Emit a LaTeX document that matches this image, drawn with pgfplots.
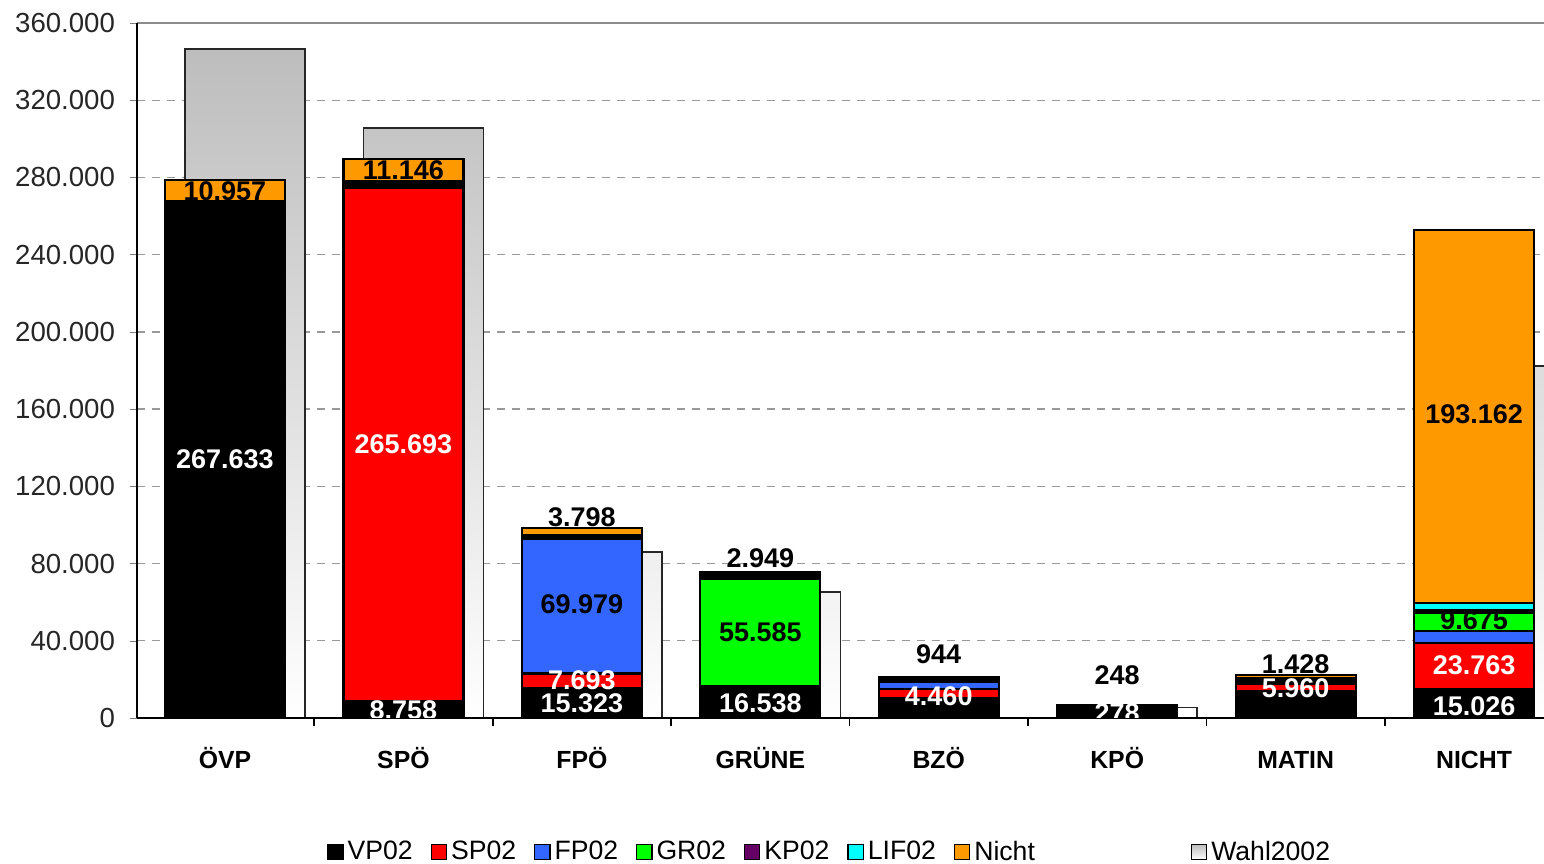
\documentclass[border=0pt]{standalone}
\usepackage{fontspec}
\setmainfont{Liberation Sans}
\usepackage{pgfplots}
\usepackage{pgfplotstable}
\pgfplotsset{compat=1.18}
\definecolor{cVP}{HTML}{000000}
\definecolor{cSP}{HTML}{FF0000}
\definecolor{cFP}{HTML}{3366FF}
\definecolor{cGR}{HTML}{00FF00}
\definecolor{cKP}{HTML}{660066}
\definecolor{cLIF}{HTML}{00FFFF}
\definecolor{cNI}{HTML}{FF9900}
\definecolor{cWA}{HTML}{BDBDBD}

\pgfplotstableread{
x VP SP FP GR KP LIF OT NI
0 267633 0 0 0 0 0 0 10957
1 8758 265693 0 0 0 0 3800 11146
2 15323 7693 69979 0 0 0 1500 3798
3 16538 0 0 55585 0 0 3500 0
4 10400 4460 3800 0 0 0 1450 944
5 6400 0 0 0 0 0 0 248
6 13900 4000 0 0 0 0 3000 1428
7 15026 23763 6200 9675 1240 3600 0 193162
}\stacktab

\pgfplotstableread{
x W
0 346500
1 305600
2 86100
3 65400
5 5500
7 182300
}\wahltab

\pgfplotsset{
  base/.style={
    scale only axis, width=703.5pt, height=347.5pt,
    at={(0,0)}, anchor=south west,
    xmin=-0.493, xmax=7.392, ymin=0, ymax=360000,
    scaled x ticks=false, scaled y ticks=false,
  },
  seg/.style={draw=black, line width=1.1pt, fill=#1},
}
\tikzset{lbl/.style={font=\bfseries\fontsize{13.5}{15}\selectfont, text=#1, inner sep=0pt}}

\begin{document}
\begin{tikzpicture}
% background: grid + Wahl2002
\begin{axis}[base, name=bg,
  axis line style={draw=none}, tick style={draw=none},
  xtick=\empty, ytick={40000,80000,...,320000}, yticklabels={},
  ymajorgrids, grid style={dash pattern=on 4pt off 3.5pt, color=black!40, line width=0.7pt},
  extra y ticks={360000}, extra y tick labels={},
  extra y tick style={grid style={solid, color=black!45, line width=0.8pt}},
]
\addplot[ybar, bar width=60pt, bar shift=10pt, draw=black!85, line width=0.8pt,
  top color=cWA, bottom color=white] table[x=x, y=W] {\wahltab};
\end{axis}
% foreground: stacked bars
\begin{axis}[base, name=ax, ybar stacked, bar width=60pt,
  axis x line*=bottom, axis y line*=left,
  axis line style={black, line width=0.9pt},
  tick align=outside,
  ytick={0,40000,...,360000},
  yticklabels={0,40.000,80.000,120.000,160.000,200.000,240.000,280.000,320.000,360.000},
  major tick length=3.5pt,
  yticklabel style={font=\fontsize{13.8}{16}\selectfont, xshift=-4pt, text=black!85},
  xtick={0,...,7},
  xticklabels={ÖVP,SPÖ,FPÖ,GRÜNE,BZÖ,KPÖ,MATIN,NICHT},
  x tick style={draw=none},
  minor xtick={0.5,1.5,...,6.5},
  minor x tick style={draw=black, line width=0.9pt},
  minor tick length=4pt,
  xticklabel style={font=\bfseries\fontsize{12.4}{14}\selectfont, text height=9pt, text depth=0pt, yshift=-9pt},
  legend style={at={(0.493,-0.193)}, anchor=center, draw=none, fill=none,
    legend columns=-1, font=\fontsize{13.3}{15}\selectfont,
    /tikz/every even column/.append style={column sep=7pt},
    inner sep=0pt},
  legend image code/.code={\draw[#1, line width=0.6pt, draw=black] (0pt,-3.8pt) rectangle (7.6pt,3.8pt);},
]
\addplot[seg=cVP] table[x=x, y=VP] {\stacktab};
\addlegendentry{VP02}
\addplot[seg=cSP] table[x=x, y=SP] {\stacktab};
\addlegendentry{SP02}
\addplot[seg=cFP] table[x=x, y=FP] {\stacktab};
\addlegendentry{FP02}
\addplot[seg=cGR] table[x=x, y=GR] {\stacktab};
\addlegendentry{GR02}
\addplot[seg=cKP] table[x=x, y=KP] {\stacktab};
\addlegendentry{KP02}
\addplot[seg=cLIF] table[x=x, y=LIF] {\stacktab};
\addlegendentry{LIF02}
\addplot[seg=black, forget plot] table[x=x, y=OT] {\stacktab};
\addplot[seg=cNI] table[x=x, y=NI] {\stacktab};
\addlegendentry{Nicht}
\addlegendimage{empty legend}
\addlegendentry{\rule{58pt}{0pt}}
\addlegendimage{draw=black, top color=cWA, bottom color=white}
\addlegendentry{Wahl2002}
\end{axis}
% overlay: value labels
\begin{axis}[base, hide axis]
\node[lbl=white] at (axis cs:0,134200) {267.633};
\node[lbl=black] at (axis cs:0,273100) {10.957};
\node[lbl=white] at (axis cs:1,142000) {265.693};
\node[lbl=white] at (axis cs:1,4100) {8.758};
\node[lbl=black] at (axis cs:1,283800) {11.146};
\node[lbl=black] at (axis cs:2,104100) {3.798};
\node[lbl=black] at (axis cs:2,59000) {69.979};
\node[lbl=white] at (axis cs:2,19700) {7.693};
\node[lbl=white] at (axis cs:2,7800) {15.323};
\node[lbl=black] at (axis cs:3,82900) {2.949};
\node[lbl=black] at (axis cs:3,44500) {55.585};
\node[lbl=white] at (axis cs:3,7800) {16.538};
\node[lbl=black] at (axis cs:4,33200) {944};
\node[lbl=white] at (axis cs:4,11400) {4.460};
\node[lbl=black] at (axis cs:5,22300) {248};
\node[lbl=white] at (axis cs:5,2400) {278};
\node[lbl=black] at (axis cs:6,28000) {1.428};
\node[lbl=white] at (axis cs:6,15500) {5.960};
\node[lbl=black] at (axis cs:7,157500) {193.162};
\node[lbl=black] at (axis cs:7,50500) {9.675};
\node[lbl=white] at (axis cs:7,27500) {23.763};
\node[lbl=white] at (axis cs:7,6200) {15.026};
\end{axis}
\pgfresetboundingbox
\path ([xshift=-68.5pt, yshift=-73pt]ax.south west) rectangle ([yshift=11.5pt]ax.north east);
\end{tikzpicture}
\end{document}
